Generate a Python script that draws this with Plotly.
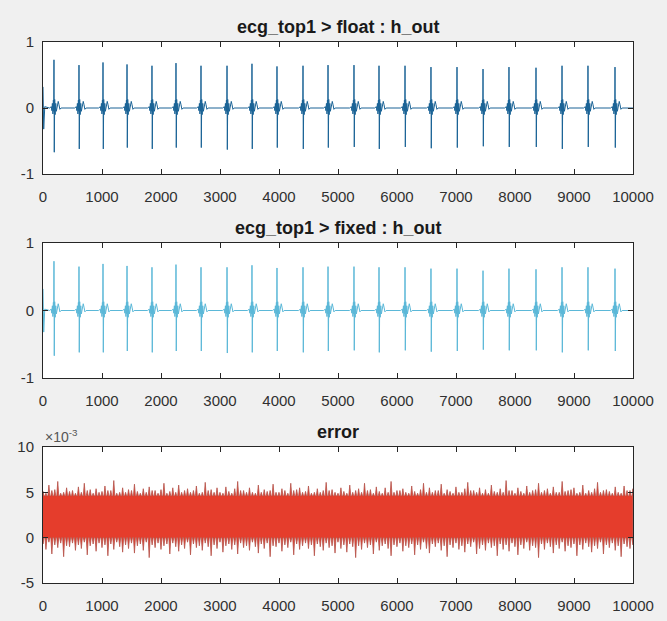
import numpy as np
import plotly.graph_objects as go

# ---------------- data ----------------
# R-peak sample positions of the ECG beats
beat_pos = [186, 610, 1017, 1424, 1847, 2254, 2678, 3119, 3542, 3966, 4407, 4831,
            5271, 5695, 6136, 6576, 7017, 7458, 7898, 8356, 8797, 9237, 9695]
# R-peak amplitude and S-trough amplitude of each beat
beat_r = [0.73, 0.65, 0.69, 0.66, 0.64, 0.68, 0.64, 0.64, 0.67, 0.63, 0.64, 0.65,
          0.65, 0.64, 0.64, 0.62, 0.62, 0.59, 0.62, 0.61, 0.64, 0.64, 0.62]
beat_s = [-0.67, -0.62, -0.62, -0.60, -0.62, -0.60, -0.60, -0.63, -0.62, -0.60, -0.62, -0.60,
          -0.59, -0.62, -0.59, -0.61, -0.60, -0.58, -0.59, -0.59, -0.62, -0.59, -0.60]
# shape of one beat around the R peak (sample offset, value); "R"/"S" = peak / trough
beat_offsets = [-75, -45, -36, -27, -18, -10, -4, 0, 5, 12, 20, 30, 40, 55, 72, 85, 100, 120]
beat_shape = [0.0, 0.02, -0.04, 0.07, -0.09, 0.12, -0.05, "R", "S", 0.13, -0.10, 0.07,
              -0.05, 0.02, 0.10, 0.05, -0.02, 0.0]
# start-up transient
start_x = [0, 12, 30]
start_y = [0.32, -0.32, 0.02]

# error signal (units of 1e-3): solid core band and spike tips every 50 samples
err_core_top = 4.6
err_core_bottom = 0.0
err_upper = [
    5.1, 4.9, 5.8, 5.2, 5.3, 6.2, 4.9, 5.0, 5.5, 5.1,
    5.2, 4.9, 5.6, 5.0, 6.0, 5.2, 5.3, 4.9, 5.4, 5.0,
    5.1, 5.7, 5.2, 5.2, 6.3, 4.9, 5.0, 5.5, 5.0, 5.3,
    5.2, 5.9, 5.1, 4.9, 5.4, 5.0, 5.6, 5.2, 5.2, 4.9,
    5.3, 6.0, 4.9, 5.1, 5.5, 5.0, 5.8, 5.0, 5.2, 5.4,
    5.0, 5.2, 5.7, 4.9, 5.0, 6.1, 5.2, 5.3, 5.0, 5.5,
    5.0, 4.9, 5.6, 5.1, 4.9, 5.4, 6.2, 5.2, 5.2, 5.0,
    5.5, 5.0, 4.9, 5.8, 5.0, 5.3, 5.1, 5.2, 5.9, 5.0,
    5.0, 5.4, 5.2, 4.9, 6.0, 5.2, 5.3, 5.5, 5.0, 5.1,
    5.7, 4.9, 5.0, 5.4, 5.0, 5.2, 6.1, 5.2, 5.3, 5.0,
    4.9, 5.5, 5.1, 4.9, 5.8, 5.0, 5.2, 5.4, 5.0, 6.0,
    5.2, 5.3, 4.9, 5.6, 5.1, 4.9, 5.5, 5.0, 6.2, 5.0,
    5.2, 5.2, 5.4, 5.0, 4.9, 5.7, 5.1, 4.9, 5.3, 6.0,
    5.0, 5.5, 5.0, 5.2, 5.2, 5.9, 4.9, 5.3, 5.1, 4.9,
    5.6, 5.0, 5.0, 5.4, 6.1, 5.2, 5.2, 5.0, 5.5, 4.9,
    5.3, 4.9, 5.8, 5.1, 5.0, 5.4, 5.0, 6.3, 5.2, 5.2,
    4.9, 5.5, 5.1, 4.9, 5.7, 5.0, 5.2, 5.3, 6.0, 5.0,
    5.2, 5.4, 4.9, 5.6, 5.0, 5.0, 6.2, 5.1, 5.2, 5.3,
    5.5, 4.9, 5.0, 5.8, 4.9, 5.2, 5.0, 5.4, 6.1, 5.0,
    5.2, 5.3, 5.1, 4.9, 5.6, 5.0, 4.9, 5.7, 5.2, 5.2,
    5.4]
err_lower = [
    -0.7, -1.3, -0.5, -1.8, -0.8, -1.1, -0.6, -2.1, -0.9, -1.0,
    -0.6, -1.4, -0.8, -1.2, -0.5, -1.9, -0.9, -0.7, -1.5, -0.6,
    -1.1, -0.8, -2.0, -0.7, -1.3, -0.5, -1.0, -1.6, -0.8, -1.2,
    -0.6, -1.7, -0.9, -0.7, -1.4, -0.5, -2.2, -0.8, -1.1, -0.6,
    -1.3, -0.9, -0.7, -1.8, -0.6, -1.0, -1.5, -0.8, -1.2, -0.5,
    -1.9, -0.7, -1.1, -0.9, -1.4, -0.6, -1.0, -2.0, -0.8, -1.2,
    -0.5, -1.6, -0.9, -0.7, -1.3, -0.8, -1.8, -0.6, -1.1, -0.9,
    -1.4, -0.5, -1.0, -1.7, -0.7, -1.2, -0.6, -2.1, -0.9, -1.0,
    -0.6, -1.5, -0.8, -1.1, -0.5, -1.9, -0.7, -1.3, -0.9, -0.6,
    -1.2, -0.8, -2.0, -0.7, -1.0, -1.4, -0.6, -1.1, -0.9, -1.7,
    -0.5, -1.2, -0.8, -1.6, -0.7, -1.0, -2.2, -0.9, -1.3, -0.6,
    -1.1, -0.8, -1.8, -0.5, -1.4, -0.9, -0.7, -1.2, -2.0, -0.8,
    -1.0, -0.6, -1.5, -0.9, -1.1, -0.7, -1.9, -0.8, -1.3, -0.5,
    -1.2, -1.7, -0.7, -1.0, -0.6, -1.4, -0.9, -2.1, -0.8, -1.1,
    -0.6, -1.3, -0.9, -1.6, -0.7, -1.0, -0.5, -1.8, -1.2, -0.8,
    -1.4, -0.6, -1.1, -0.9, -2.0, -0.7, -1.3, -0.8, -1.5, -0.6,
    -1.0, -1.9, -0.8, -1.2, -0.5, -1.4, -0.9, -1.1, -2.2, -0.7,
    -1.3, -0.6, -1.0, -1.7, -0.8, -1.2, -0.5, -1.5, -0.9, -1.1,
    -0.7, -2.0, -0.8, -1.3, -0.6, -1.0, -1.6, -0.9, -1.2, -0.5,
    -1.8, -0.8, -1.1, -0.6, -1.4, -0.9, -2.1, -0.7, -1.0, -1.2,
    -0.8]
n_samples = 10000

xticks = [0, 1000, 2000, 3000, 4000, 5000, 6000, 7000, 8000, 9000, 10000]
titles = ["ecg_top1 > float : h_out", "ecg_top1 > fixed : h_out", "error"]
yticks_ecg = [-1, 0, 1]
yticks_err = [-5, 0, 5, 10]

# ---------------- build traces ----------------
ecg_x = list(start_x)
ecg_y = list(start_y)
for p, r, s in zip(beat_pos, beat_r, beat_s):
    for off, v in zip(beat_offsets, beat_shape):
        ecg_x.append(p + off)
        ecg_y.append(r if v == "R" else (s if v == "S" else v))
ecg_x.append(n_samples - 1)
ecg_y.append(0.0)

# error outline: thin spikes rising from the solid core to each tip value
ex = np.linspace(0, n_samples - 1, len(err_upper))
exl = np.linspace(0, n_samples - 1, len(err_lower))
half = 17
up_x, up_y = [], []
for xv, tip in zip(ex, err_upper):
    up_x += [max(xv - half, 0), xv, min(xv + half, n_samples - 1)]
    up_y += [err_core_top, tip, err_core_top]
lo_x, lo_y = [], []
for xv, tip in zip(exl, err_lower):
    lo_x += [max(xv - half, 0), xv, min(xv + half, n_samples - 1)]
    lo_y += [err_core_bottom, tip, err_core_bottom]
poly_x = up_x + lo_x[::-1]
poly_y = up_y + lo_y[::-1]

W, H = 667, 621
xl, xr = 43 / W, 633 / W
doms = [(42, 174), (243, 378), (447, 583)]

BG = "#f0f0f0"
fig = go.Figure()
fig.add_trace(go.Scatter(x=ecg_x, y=ecg_y, mode="lines", line=dict(color="#1a6396", width=1),
                         xaxis="x", yaxis="y", showlegend=False, hoverinfo="skip"))
fig.add_trace(go.Scatter(x=ecg_x, y=ecg_y, mode="lines", line=dict(color="#5bb8d8", width=1),
                         xaxis="x2", yaxis="y2", showlegend=False, hoverinfo="skip"))
fig.add_trace(go.Scatter(x=poly_x, y=poly_y, mode="lines", fill="toself",
                         fillcolor="#e53d2c", line=dict(color="#b5534a", width=0.8),
                         xaxis="x3", yaxis="y3", showlegend=False, hoverinfo="skip"))

FAM = "Liberation Sans, Arial, Helvetica, sans-serif"
font = dict(family=FAM, size=15, color="#303030")
axcommon = dict(showline=True, linecolor="#262626", linewidth=1, mirror="ticks",
                ticks="inside", ticklen=5, tickcolor="#262626", showgrid=False,
                zeroline=False, tickfont=font, automargin=False)

layout = dict(width=W, height=H, autosize=False, margin=dict(l=0, r=0, t=0, b=0, pad=0),
              paper_bgcolor=BG, plot_bgcolor="#ffffff", showlegend=False,
              template="none")
yranges = [[-1, 1], [-1, 1], [-5, 10]]
yticks = [yticks_ecg, yticks_ecg, yticks_err]
annotations = []
for i, (top, bot) in enumerate(doms):
    sfx = "" if i == 0 else str(i + 1)
    layout["xaxis" + sfx] = dict(axcommon, domain=[xl, xr], range=[0, 10000],
                                 tickvals=xticks, ticktext=[str(t) for t in xticks],
                                 ticklabelstandoff=9, anchor="y" + sfx)
    layout["yaxis" + sfx] = dict(axcommon, domain=[1 - bot / H, 1 - top / H],
                                 range=yranges[i], tickvals=yticks[i],
                                 ticktext=[str(t) for t in yticks[i]],
                                 ticklabelstandoff=5, anchor="x" + sfx)
    annotations.append(dict(text="<b>" + titles[i] + "</b>", x=(xl + xr) / 2,
                            y=1 - top / H, xref="paper", yref="paper",
                            xanchor="center", yanchor="bottom", yshift=3, showarrow=False,
                            font=dict(family=FAM, size=18, color="#1a1a1a")))
annotations.append(dict(text="×10<sup>-3</sup>", x=xl, y=1 - doms[2][0] / H,
                        xref="paper", yref="paper", xanchor="left", yanchor="bottom",
                        showarrow=False, font=dict(family=FAM, size=14, color="#555555")))
layout["annotations"] = annotations
fig.update_layout(**layout)

# fill the actual browser viewport exactly (no body margin, no scrollbars)
fit_js = (
    "document.documentElement.style.margin='0';"
    "document.body.style.margin='0';document.body.style.overflow='hidden';"
    "document.body.style.background='%s';"
    "var gd=document.getElementById('{plot_id}');"
    "Plotly.relayout(gd,{width:window.innerWidth,height:window.innerHeight});" % BG
)
fig.write_html("out.html", config={"displayModeBar": False}, post_script=fit_js)
